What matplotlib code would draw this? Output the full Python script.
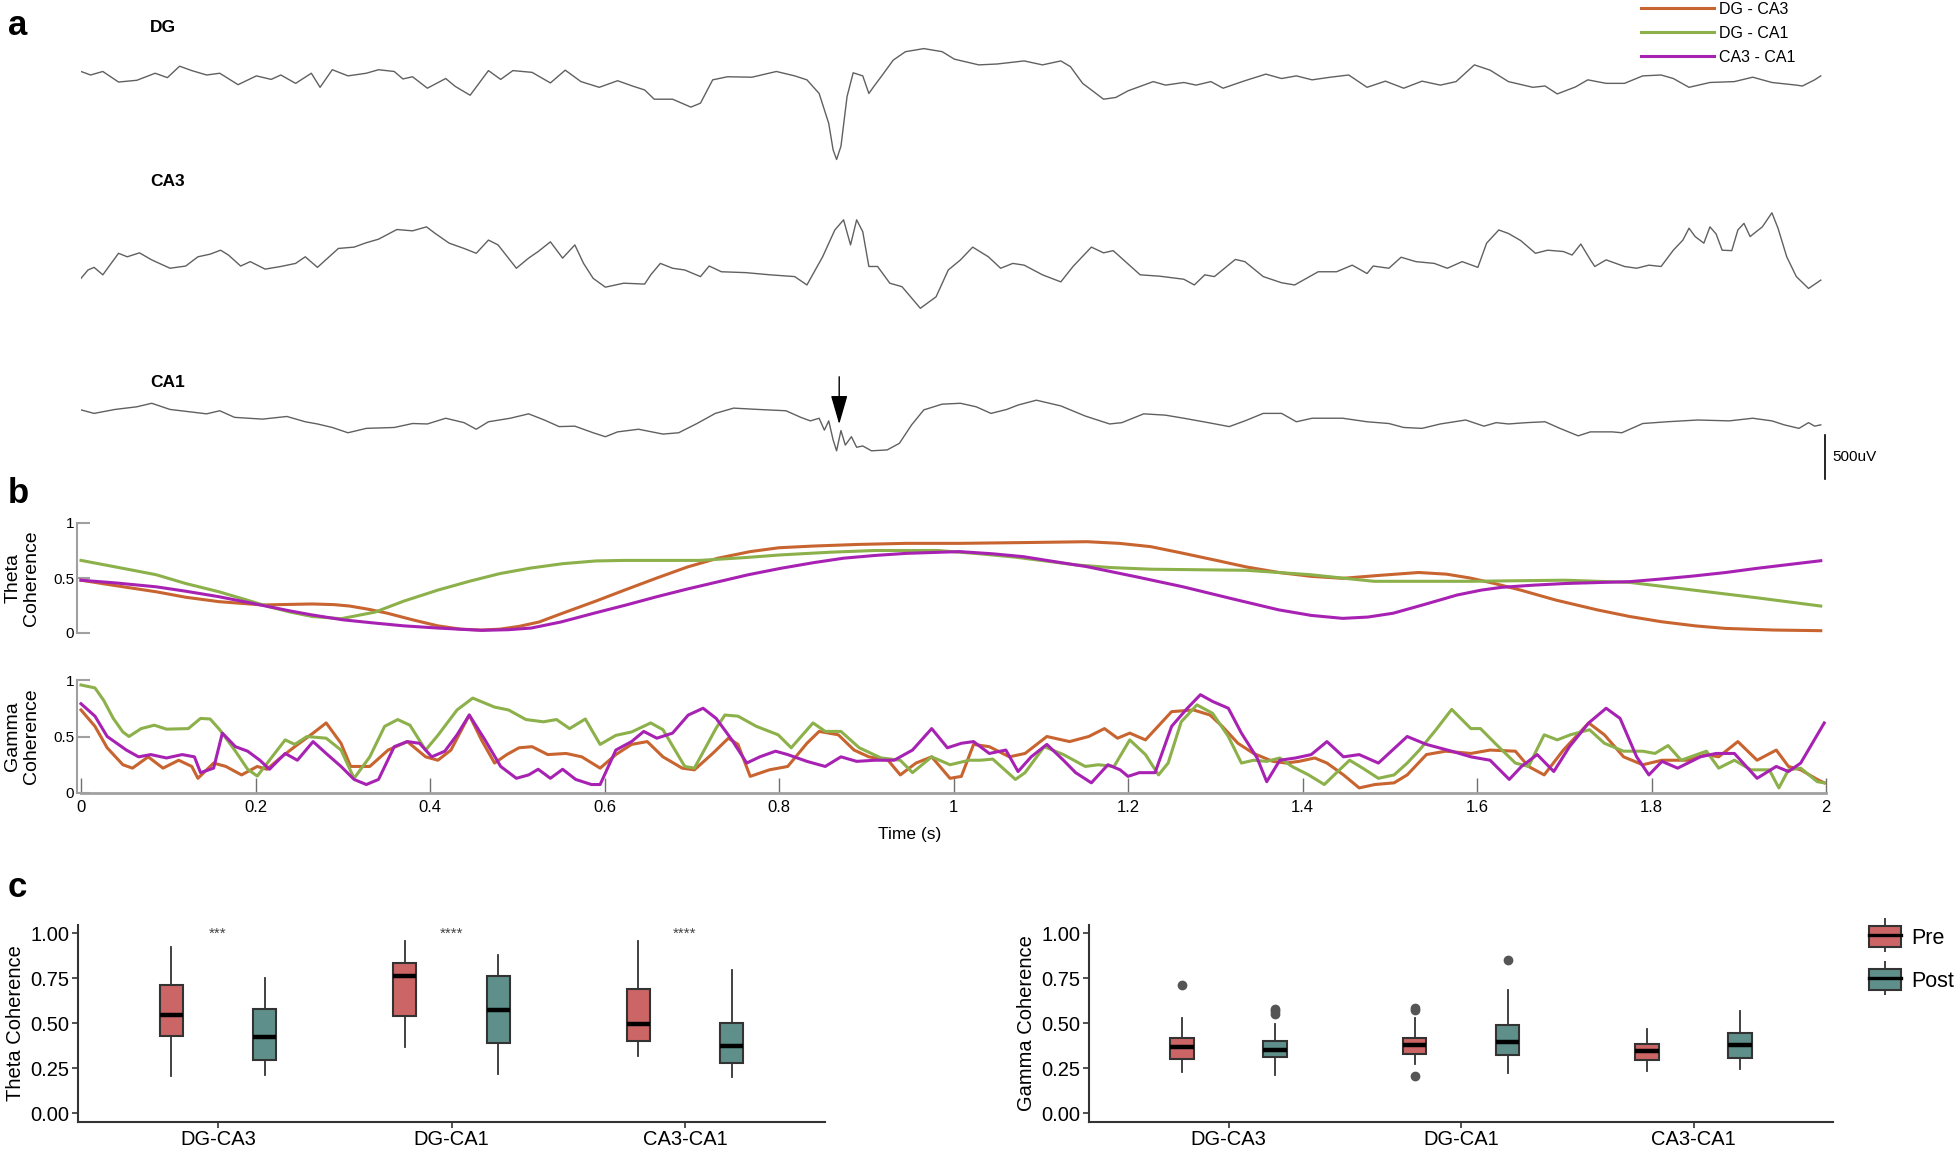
import numpy as np
import matplotlib.pyplot as plt
from matplotlib import font_manager
from matplotlib.lines import Line2D
from matplotlib.patches import Patch

# ---------------- data ----------------
# panel a: LFP traces (time in s, deviation from channel baseline in uV)
dg_t = [0.000, 0.011, 0.025, 0.043, 0.064, 0.085, 0.099, 0.113, 0.127, 0.144, 0.159, 0.180, 0.201, 0.218,
        0.229, 0.246, 0.264, 0.274, 0.288, 0.306, 0.327, 0.341, 0.359, 0.369, 0.380, 0.397, 0.418, 0.429,
        0.446, 0.467, 0.481, 0.495, 0.517, 0.538, 0.555, 0.573, 0.594, 0.615, 0.632, 0.646, 0.657, 0.678,
        0.699, 0.710, 0.724, 0.741, 0.769, 0.797, 0.818, 0.832, 0.846, 0.857, 0.862, 0.866, 0.871, 0.878,
        0.885, 0.896, 0.903, 0.908, 0.917, 0.931, 0.945, 0.966, 0.987, 1.001, 1.029, 1.050, 1.081, 1.102,
        1.123, 1.134, 1.148, 1.172, 1.186, 1.200, 1.229, 1.243, 1.264, 1.278, 1.295, 1.309, 1.334, 1.358,
        1.376, 1.393, 1.411, 1.432, 1.453, 1.474, 1.495, 1.516, 1.537, 1.558, 1.576, 1.597, 1.615, 1.636,
        1.664, 1.678, 1.692, 1.713, 1.727, 1.748, 1.769, 1.790, 1.811, 1.825, 1.843, 1.867, 1.895, 1.916,
        1.938, 1.966, 1.973, 1.987, 1.994]
dg_uv = [40, 0, 40, -80, -60, 20, -30, 100, 50, 0, 20, -110, -10, -50,
         0, -95, 20, -140, 60, -10, 20, 60, 40, -45, -20, -150, -40, -130,
         -230, 50, -50, 50, 30, -90, 55, -75, -140, -65, -125, -170, -275, -275,
         -365, -320, -55, -20, -25, 40, -10, -55, -210, -550, -850, -960, -810, -245,
         25, -10, -210, -140, -20, 170, 265, 300, 265, 180, 115, 125, 160, 115,
         160, 95, -95, -275, -255, -180, -75, -115, -85, -115, -75, -150, -65, 10,
         -40, -10, -55, -25, 0, -140, -70, -150, -70, -115, -75, 115, 55, -75,
         -140, -125, -215, -135, -55, -95, -95, -10, 0, -40, -140, -85, -75, -25,
         -85, -115, -125, -55, -10]

ca3_t = [0.000, 0.008, 0.015, 0.025, 0.043, 0.053, 0.067, 0.081, 0.102, 0.120, 0.134, 0.148, 0.160, 0.169,
         0.183, 0.194, 0.211, 0.229, 0.246, 0.257, 0.271, 0.295, 0.313, 0.327, 0.341, 0.362, 0.380, 0.396,
         0.406, 0.422, 0.439, 0.453, 0.467, 0.478, 0.499, 0.513, 0.524, 0.538, 0.552, 0.566, 0.576, 0.587,
         0.601, 0.622, 0.646, 0.653, 0.664, 0.678, 0.692, 0.710, 0.720, 0.734, 0.762, 0.790, 0.818, 0.832,
         0.850, 0.864, 0.874, 0.882, 0.889, 0.896, 0.903, 0.913, 0.927, 0.941, 0.962, 0.980, 0.994, 1.008,
         1.022, 1.040, 1.054, 1.068, 1.081, 1.102, 1.123, 1.137, 1.158, 1.172, 1.183, 1.214, 1.236, 1.264,
         1.276, 1.288, 1.299, 1.323, 1.334, 1.355, 1.376, 1.391, 1.418, 1.439, 1.457, 1.474, 1.481, 1.499,
         1.513, 1.530, 1.551, 1.566, 1.583, 1.601, 1.611, 1.625, 1.636, 1.650, 1.667, 1.681, 1.699, 1.709,
         1.719, 1.730, 1.735, 1.748, 1.769, 1.783, 1.797, 1.811, 1.825, 1.836, 1.843, 1.850, 1.860, 1.867,
         1.874, 1.881, 1.892, 1.899, 1.906, 1.913, 1.927, 1.938, 1.945, 1.955, 1.966, 1.980, 1.994]
ca3_uv = [-720, -625, -595, -680, -435, -475, -430, -510, -605, -580, -475, -445, -400, -455,
          -580, -530, -615, -585, -550, -475, -595, -380, -365, -315, -275, -165, -180, -135,
          -210, -320, -380, -435, -285, -340, -605, -490, -415, -305, -490, -340, -550, -720,
          -820, -775, -785, -680, -550, -605, -625, -700, -580, -645, -655, -680, -700, -795,
          -475, -170, -55, -340, -55, -190, -585, -585, -775, -815, -1060, -930, -625, -510,
          -365, -475, -605, -550, -570, -680, -760, -585, -365, -430, -405, -680, -695, -730,
          -795, -680, -700, -505, -530, -700, -770, -795, -645, -645, -570, -665, -580, -605,
          -480, -530, -550, -605, -530, -595, -320, -170, -210, -290, -435, -400, -415, -455,
          -330, -510, -585, -510, -585, -605, -570, -585, -400, -285, -150, -245, -320, -135,
          -215, -400, -405, -170, -95, -245, -135, 25, -150, -475, -700, -835, -740]

ca1_t = [0.000, 0.015, 0.039, 0.064, 0.081, 0.102, 0.123, 0.144, 0.159, 0.176, 0.208, 0.236, 0.257, 0.271,
         0.288, 0.306, 0.327, 0.359, 0.380, 0.397, 0.418, 0.439, 0.453, 0.467, 0.492, 0.513, 0.531, 0.548,
         0.566, 0.587, 0.601, 0.615, 0.639, 0.667, 0.685, 0.706, 0.727, 0.748, 0.776, 0.808, 0.825, 0.836,
         0.846, 0.852, 0.857, 0.862, 0.866, 0.871, 0.876, 0.883, 0.889, 0.896, 0.906, 0.924, 0.938, 0.952,
         0.966, 0.987, 1.008, 1.026, 1.043, 1.061, 1.074, 1.095, 1.123, 1.151, 1.179, 1.193, 1.218, 1.243,
         1.264, 1.292, 1.316, 1.334, 1.355, 1.376, 1.393, 1.411, 1.446, 1.474, 1.499, 1.516, 1.537, 1.558,
         1.587, 1.608, 1.622, 1.636, 1.657, 1.678, 1.695, 1.716, 1.730, 1.755, 1.766, 1.790, 1.818, 1.853,
         1.889, 1.916, 1.938, 1.952, 1.969, 1.980, 1.987, 1.994]
ca1_uv = [115, 75, 120, 150, 190, 120, 95, 70, 105, 30, 10, 40, -20, -45,
          -85, -145, -95, -85, -40, -45, 20, -30, -105, -20, 20, 70, 0, -75,
          -70, -145, -190, -135, -105, -160, -145, -40, 75, 135, 120, 105, 30, -10,
          20, -115, -10, -225, -350, -120, -285, -190, -310, -295, -350, -340, -265, -55,
          115, 180, 190, 150, 75, 120, 170, 225, 160, 45, -45, -30, 70, 55,
          20, -30, -75, -10, 75, 75, -20, 20, 20, -20, -40, -85, -95, -45,
          0, -70, -30, -45, -30, -20, -95, -180, -135, -135, -145, -40, -20, 0,
          -10, 20, -10, -55, -95, -30, -70, -55]

pairs = ['DG - CA3', 'DG - CA1', 'CA3 - CA1']

# panel b: theta coherence
theta_dgca3_t = [0, 0.04, 0.086, 0.12, 0.158, 0.208, 0.265, 0.29, 0.308, 0.33, 0.351, 0.38, 0.409, 0.435,
                 0.459, 0.48, 0.502, 0.525, 0.552, 0.59, 0.623, 0.66, 0.695, 0.73, 0.767, 0.80, 0.838,
                 0.89, 0.946, 1.007, 1.08, 1.153, 1.19, 1.226, 1.26, 1.299, 1.336, 1.373, 1.41, 1.446,
                 1.49, 1.533, 1.565, 1.592, 1.62, 1.65, 1.69, 1.738, 1.775, 1.811, 1.85, 1.884, 1.94, 1.994]
theta_dgca3 = [0.48, 0.43, 0.375, 0.325, 0.285, 0.255, 0.264, 0.258, 0.245, 0.215, 0.18, 0.12, 0.065, 0.035,
               0.027, 0.035, 0.06, 0.10, 0.18, 0.29, 0.39, 0.50, 0.60, 0.68, 0.74, 0.775, 0.79,
               0.805, 0.815, 0.815, 0.822, 0.83, 0.815, 0.785, 0.73, 0.664, 0.60, 0.55, 0.515, 0.497,
               0.525, 0.55, 0.535, 0.50, 0.45, 0.39, 0.30, 0.21, 0.15, 0.103, 0.065, 0.042, 0.027, 0.021]
theta_dgca1_t = [0, 0.04, 0.086, 0.12, 0.158, 0.19, 0.215, 0.24, 0.265, 0.298, 0.337, 0.37, 0.409, 0.445,
                 0.48, 0.515, 0.552, 0.59, 0.623, 0.709, 0.76, 0.802, 0.86, 0.91, 0.982, 1.03, 1.07, 1.105,
                 1.139, 1.18, 1.226, 1.336, 1.409, 1.445, 1.482, 1.592, 1.701, 1.775, 1.848, 1.921, 1.994]
theta_dgca1 = [0.66, 0.60, 0.53, 0.45, 0.375, 0.30, 0.24, 0.19, 0.15, 0.13, 0.19, 0.29, 0.39, 0.47,
               0.54, 0.59, 0.63, 0.655, 0.66, 0.66, 0.685, 0.71, 0.735, 0.75, 0.75, 0.72, 0.69, 0.655,
               0.62, 0.595, 0.58, 0.57, 0.53, 0.50, 0.47, 0.47, 0.48, 0.46, 0.39, 0.32, 0.245]
theta_ca3ca1_t = [0, 0.04, 0.086, 0.12, 0.158, 0.19, 0.215, 0.24, 0.265, 0.30, 0.337, 0.37, 0.409, 0.459,
                  0.49, 0.516, 0.55, 0.588, 0.625, 0.66, 0.695, 0.731, 0.765, 0.802, 0.84, 0.874, 0.91,
                  0.946, 1.007, 1.045, 1.08, 1.115, 1.153, 1.21, 1.263, 1.32, 1.373, 1.41, 1.446, 1.475,
                  1.504, 1.54, 1.577, 1.605, 1.628, 1.665, 1.701, 1.775, 1.81, 1.848, 1.885, 1.921, 1.96, 1.994]
theta_ca3ca1 = [0.48, 0.455, 0.42, 0.38, 0.33, 0.28, 0.24, 0.20, 0.164, 0.12, 0.09, 0.065, 0.045, 0.024,
                0.03, 0.045, 0.10, 0.18, 0.255, 0.33, 0.40, 0.467, 0.53, 0.588, 0.64, 0.68, 0.705,
                0.724, 0.74, 0.72, 0.694, 0.65, 0.603, 0.51, 0.42, 0.31, 0.21, 0.16, 0.133, 0.145,
                0.18, 0.26, 0.345, 0.39, 0.415, 0.435, 0.45, 0.467, 0.49, 0.518, 0.55, 0.588, 0.625, 0.657]

# panel b: gamma coherence
gamma_dgca3_t = [0, .016, .03, .048, .059, .077, .094, .112, .127, .134, .152, .166, .184, .202, .213,
                 .23, .245, .266, .281, .298, .309, .331, .352, .374, .395, .409, .424, .445, .459, .474,
                 .488, .502, .517, .535, .556, .574, .595, .613, .631, .649, .667, .689, .703, .724, .742,
                 .753, .767, .789, .81, .832, .846, .868, .886, .903, .925, .939, .957, .975, .996, 1.009,
                 1.023, 1.041, 1.064, 1.082, 1.107, 1.133, 1.155, 1.173, 1.188, 1.202, 1.22, 1.25, 1.275,
                 1.294, 1.308, 1.326, 1.344, 1.366, 1.381, 1.396, 1.414, 1.428, 1.447, 1.465, 1.483, 1.505,
                 1.52, 1.542, 1.564, 1.593, 1.615, 1.644, 1.659, 1.677, 1.699, 1.728, 1.746, 1.768, 1.79,
                 1.812, 1.841, 1.863, 1.877, 1.899, 1.921, 1.943, 1.957, 1.971, 1.99, 1.998]
gamma_dgca3 = [.735, .59, .40, .25, .22, .32, .22, .29, .235, .13, .265, .235, .16, .235, .21,
               .32, .41, .53, .62, .44, .235, .235, .38, .455, .32, .29, .38, .69, .47, .265,
               .34, .40, .41, .34, .35, .32, .22, .34, .43, .455, .32, .22, .205, .35, .485,
               .43, .147, .205, .235, .44, .545, .515, .38, .32, .29, .16, .265, .32, .13, .147,
               .43, .41, .32, .35, .50, .455, .50, .57, .485, .53, .47, .72, .735,
               .69, .59, .44, .35, .28, .265, .28, .31, .265, .16, .045, .075, .09,
               .16, .34, .37, .35, .38, .37, .235, .16, .38, .62, .515, .32, .25,
               .29, .29, .34, .32, .455, .29, .38, .235, .205, .12, .09]
gamma_dgca1_t = [0, .016, .026, .037, .048, .055, .069, .084, .098, .123, .137, .148, .159, .177, .191,
                 .202, .216, .234, .245, .259, .281, .298, .313, .331, .348, .363, .377, .395, .409, .431,
                 .449, .474, .49, .51, .53, .545, .56, .578, .595, .613, .631, .653, .667, .692, .703,
                 .728, .738, .753, .774, .799, .814, .839, .853, .871, .892, .917, .939, .953, .975, .996,
                 1.018, 1.031, 1.045, 1.071, 1.082, 1.104, 1.126, 1.151, 1.166, 1.184, 1.202, 1.22, 1.235,
                 1.246, 1.261, 1.279, 1.297, 1.315, 1.33, 1.344, 1.359, 1.374, 1.388, 1.407, 1.425, 1.439,
                 1.454, 1.469, 1.487, 1.505, 1.52, 1.534, 1.553, 1.571, 1.593, 1.604, 1.622, 1.644, 1.659,
                 1.677, 1.692, 1.707, 1.729, 1.746, 1.768, 1.79, 1.804, 1.819, 1.834, 1.852, 1.863, 1.877,
                 1.895, 1.914, 1.935, 1.946, 1.957, 1.971, 1.99, 1.998]
gamma_dgca1 = [.956, .93, .82, .66, .54, .50, .57, .60, .565, .57, .66, .655, .56, .37, .21,
               .15, .29, .47, .43, .50, .485, .38, .13, .32, .59, .65, .60, .38, .51, .735,
               .84, .76, .735, .65, .63, .65, .57, .655, .43, .51, .54, .62, .56, .235, .22,
               .575, .69, .68, .59, .515, .40, .62, .545, .545, .40, .31, .29, .18, .32, .25,
               .29, .29, .30, .12, .18, .41, .34, .235, .25, .235, .47, .34, .16,
               .265, .63, .78, .705, .50, .265, .29, .28, .31, .235, .16, .075, .18,
               .29, .22, .13, .16, .265, .38, .56, .74, .57, .57, .43, .265, .235,
               .515, .47, .515, .56, .44, .37, .37, .35, .42, .29, .34, .37, .22,
               .29, .205, .205, .045, .205, .22, .10, .09]
gamma_ca3ca1_t = [0, .016, .03, .052, .066, .08, .098, .116, .13, .137, .152, .162, .177, .191, .205,
                  .216, .234, .248, .266, .281, .298, .313, .327, .341, .359, .374, .388, .402, .417, .431,
                  .445, .463, .481, .499, .513, .524, .538, .552, .567, .585, .595, .613, .631, .645, .66,
                  .678, .696, .713, .728, .746, .763, .778, .796, .81, .832, .853, .871, .889, .91, .932,
                  .953, .975, .993, 1.009, 1.023, 1.041, 1.06, 1.074, 1.089, 1.107, 1.126, 1.14, 1.158,
                  1.177, 1.191, 1.2, 1.213, 1.231, 1.25, 1.268, 1.283, 1.297, 1.315, 1.33, 1.348, 1.359,
                  1.374, 1.392, 1.41, 1.428, 1.447, 1.465, 1.487, 1.52, 1.542, 1.571, 1.593, 1.615, 1.637,
                  1.651, 1.669, 1.688, 1.706, 1.728, 1.748, 1.764, 1.783, 1.797, 1.812, 1.83, 1.856, 1.874,
                  1.895, 1.921, 1.943, 1.957, 1.971, 1.998]
gamma_ca3ca1 = [.79, .68, .50, .38, .32, .34, .31, .34, .32, .18, .22, .53, .41, .37, .29,
                .21, .35, .29, .455, .35, .235, .12, .075, .12, .41, .455, .44, .32, .37, .515,
                .69, .47, .235, .13, .16, .21, .13, .21, .12, .075, .075, .38, .455, .545, .485,
                .53, .69, .75, .66, .47, .265, .32, .37, .34, .28, .235, .32, .28, .29, .29,
                .38, .57, .40, .44, .455, .35, .38, .19, .32, .43, .29, .18, .09,
                .25, .205, .147, .18, .18, .59, .75, .87, .81, .75, .53, .31, .10,
                .29, .31, .34, .455, .32, .34, .265, .50, .43, .37, .32, .29, .12,
                .235, .34, .19, .41, .62, .75, .66, .32, .16, .28, .22, .32, .35,
                .35, .13, .235, .19, .265, .62]

# panel c: box statistics (Pre, Post) per pair
box_cats = ['DG-CA3', 'DG-CA1', 'CA3-CA1']
theta_pre = [  # whislo, q1, med, q3, whishi
    (0.207, 0.426, 0.546, 0.713, 0.922),
    (0.367, 0.541, 0.759, 0.833, 0.954),
    (0.319, 0.398, 0.494, 0.689, 0.957)]
theta_post = [
    (0.213, 0.296, 0.422, 0.578, 0.750),
    (0.219, 0.389, 0.570, 0.763, 0.880),
    (0.200, 0.278, 0.370, 0.500, 0.796)]
gamma_pre = [
    (0.228, 0.302, 0.365, 0.417, 0.528),
    (0.270, 0.328, 0.376, 0.417, 0.528),
    (0.235, 0.296, 0.346, 0.383, 0.467)]
gamma_post = [
    (0.213, 0.311, 0.348, 0.402, 0.494),
    (0.222, 0.320, 0.394, 0.491, 0.685),
    (0.244, 0.306, 0.376, 0.444, 0.565)]
gamma_pre_out = [[0.713], [0.583, 0.570, 0.207], []]
gamma_post_out = [[0.580, 0.565, 0.550], [0.852], []]
theta_stars = ['***', '****', '****']

# ---------------- style ----------------
W, H = 1960, 1149
def fx(px):
    return px / W
def fy(py):
    return 1 - py / H

names = {f.name for f in font_manager.fontManager.ttflist}
narrow = 'Liberation Sans Narrow' if 'Liberation Sans Narrow' in names else 'Liberation Sans'
plt.rcParams['font.family'] = 'Liberation Sans'

col_pair = ['#c8642f', '#8cb04a', '#a722b3']
col_pre, col_post = '#cc6666', '#5f8f8a'
trace_col = '#606060'

fig = plt.figure(figsize=(W / 100, H / 100), dpi=100)

# ---------------- panel a ----------------
uv_per_px = 500 / 44
ax_a = fig.add_axes([fx(81), fy(490), fx(1826) - fx(81), 490 / H])
for t, uv, base in [(dg_t, dg_uv, 75), (ca3_t, ca3_uv, 215), (ca1_t, ca1_uv, 420)]:
    ax_a.plot(t, -base * uv_per_px + np.array(uv), color=trace_col, lw=1.0, solid_joinstyle='round')
ax_a.set_xlim(0, 2)
ax_a.set_ylim(-490 * uv_per_px, 0)
ax_a.axis('off')

# scale bar and arrow
ax_a.plot([1.999, 1.999], [-435 * uv_per_px, -435 * uv_per_px - 500], color='k', lw=1.2, clip_on=False)
ax_a.text(2.007, -457 * uv_per_px, '500uV', fontsize=11, va='center', ha='left', family=narrow)
ax_a.annotate('', xy=(0.869, -427 * uv_per_px), xytext=(0.869, -374 * uv_per_px),
              arrowprops=dict(arrowstyle='-|>,head_length=0.9,head_width=0.26', color='k', lw=1,
                              mutation_scale=20))

for name, py in [('DG', 27), ('CA3', 181), ('CA1', 383)]:
    fig.text(fx(150), fy(py), name, fontsize=12.5, weight='bold', va='center', ha='left', family=narrow)

# ---------------- panel b ----------------
bx0, bw = fx(81), fx(1826) - fx(81)
ax_th = fig.add_axes([bx0, fy(633), bw, 110 / H])
ax_g = fig.add_axes([bx0, fy(793), bw, 113 / H])

lines = []
for tt, vv, c, lab in [(theta_dgca3_t, theta_dgca3, col_pair[0], pairs[0]),
                       (theta_dgca1_t, theta_dgca1, col_pair[1], pairs[1]),
                       (theta_ca3ca1_t, theta_ca3ca1, col_pair[2], pairs[2])]:
    ln, = ax_th.plot(tt, vv, color=c, lw=2.2, label=lab, clip_on=False, solid_joinstyle='round')
    lines.append(ln)
for tt, vv, c in [(gamma_dgca3_t, gamma_dgca3, col_pair[0]),
                  (gamma_dgca1_t, gamma_dgca1, col_pair[1]),
                  (gamma_ca3ca1_t, gamma_ca3ca1, col_pair[2])]:
    ax_g.plot(tt, vv, color=c, lw=2.2, clip_on=False, solid_joinstyle='round')

for ax in (ax_th, ax_g):
    ax.set_xlim(0, 2)
    ax.set_ylim(0, 1)
    for s in ('top', 'right'):
        ax.spines[s].set_visible(False)
    ax.spines['left'].set_color('#a0a0a0')
    ax.spines['left'].set_linewidth(1.5)
    ax.spines['left'].set_position(('outward', 3))
    ax.set_yticks([0, 0.5, 1])
    ax.set_yticklabels(['0', '0.5', '1'], family=narrow)
    ax.tick_params(axis='y', direction='in', length=9, width=1.5, color='#a0a0a0', pad=2, labelsize=11)

ax_th.spines['bottom'].set_visible(False)
ax_th.set_xticks([])
ax_g.spines['bottom'].set_color('#a0a0a0')
ax_g.spines['bottom'].set_linewidth(2)
xt = np.round(np.arange(0, 2.01, 0.2), 1)
ax_g.set_xticks(xt)
ax_g.set_xticklabels(['0', '0.2', '0.4', '0.6', '0.8', '1', '1.2', '1.4', '1.6', '1.8', '2'], family=narrow)
ax_g.tick_params(axis='x', direction='in', length=11, width=1, color='#707070', pad=5, labelsize=12)
fig.text(fx(910), fy(834), 'Time (s)', fontsize=12.5, ha='center', va='center', family=narrow)

fig.text(fx(22), fy(578), 'Theta\nCoherence', rotation=90, fontsize=14, ha='center', va='center',
         multialignment='center', linespacing=1.1)
fig.text(fx(22), fy(736), 'Gamma\nCoherence', rotation=90, fontsize=14, ha='center', va='center',
         multialignment='center', linespacing=1.1)

fig.legend(handles=lines, labels=pairs, loc='upper left', bbox_to_anchor=(fx(1641), fy(2)),
           frameon=False, borderpad=0, borderaxespad=0, handlelength=4.6, handletextpad=0.3,
           labelspacing=0.55, prop={'family': narrow, 'size': 11.5})

# ---------------- panel c ----------------
def make_stats(vals, outs):
    st = []
    for (lo, q1, med, q3, hi), fl in zip(vals, outs):
        st.append(dict(whislo=lo, q1=q1, med=med, q3=q3, whishi=hi, fliers=fl))
    return st

def draw_boxes(ax, pre, post, pre_out, post_out, ylabel):
    pos = np.arange(1, 4)
    for st, p, c in [(make_stats(pre, pre_out), pos - 0.2, col_pre),
                     (make_stats(post, post_out), pos + 0.2, col_post)]:
        ax.bxp(st, positions=p, widths=0.1, patch_artist=True, showcaps=False, showfliers=True,
               boxprops=dict(facecolor=c, edgecolor='#333333', linewidth=1.5),
               medianprops=dict(color='k', linewidth=3.2),
               whiskerprops=dict(color='#333333', linewidth=1.3),
               flierprops=dict(marker='o', markerfacecolor='#555555', markeredgecolor='#555555',
                               markersize=6))
    ax.set_xlim(0.4, 3.6)
    ax.set_ylim(-0.05, 1.045)
    ax.set_xticks(pos)
    ax.set_xticklabels(box_cats, family=narrow)
    ax.set_yticks([0, 0.25, 0.5, 0.75, 1.0])
    ax.set_yticklabels(['0.00', '0.25', '0.50', '0.75', '1.00'], family=narrow)
    for s in ('top', 'right'):
        ax.spines[s].set_visible(False)
    for s in ('left', 'bottom'):
        ax.spines[s].set_color('#333333')
        ax.spines[s].set_linewidth(1.5)
    ax.tick_params(direction='out', length=4, width=1.2, color='#333333', labelsize=14.5, pad=2)
    ax.set_ylabel(ylabel, fontsize=14.5, labelpad=4)

ax_c1 = fig.add_axes([fx(78), fy(1122), fx(825) - fx(78), (1122 - 925) / H])
ax_c2 = fig.add_axes([fx(1089), fy(1122), fx(1833) - fx(1089), (1122 - 925) / H])
draw_boxes(ax_c1, theta_pre, theta_post, [[], [], []], [[], [], []], 'Theta Coherence')
draw_boxes(ax_c2, gamma_pre, gamma_post, gamma_pre_out, gamma_post_out, 'Gamma Coherence')
for i, s in enumerate(theta_stars):
    ax_c1.text(i + 1, 0.975, s, ha='center', va='baseline', fontsize=11, color='#444444')

def key(c):
    return (Line2D([], [], marker='|', markersize=24, markeredgewidth=1.3, color='#333333', ls='none'),
            Patch(facecolor=c, edgecolor='#333333', linewidth=1.5),
            Line2D([], [], color='k', lw=2.4))

fig.legend(handles=[key(col_pre), key(col_post)], labels=['Pre', 'Post'], loc='upper left',
           bbox_to_anchor=(fx(1869), fy(926)), frameon=False, borderpad=0, borderaxespad=0,
           handlelength=1.5, handleheight=1.1, handletextpad=0.45, labelspacing=0.95,
           prop={'family': narrow, 'size': 15.5})

# panel letters
for lab, py in [('a', 35), ('b', 503), ('c', 897)]:
    fig.text(fx(8), fy(py), lab, fontsize=25, weight='bold', va='baseline', ha='left')

fig.savefig('out.png', dpi=100)
